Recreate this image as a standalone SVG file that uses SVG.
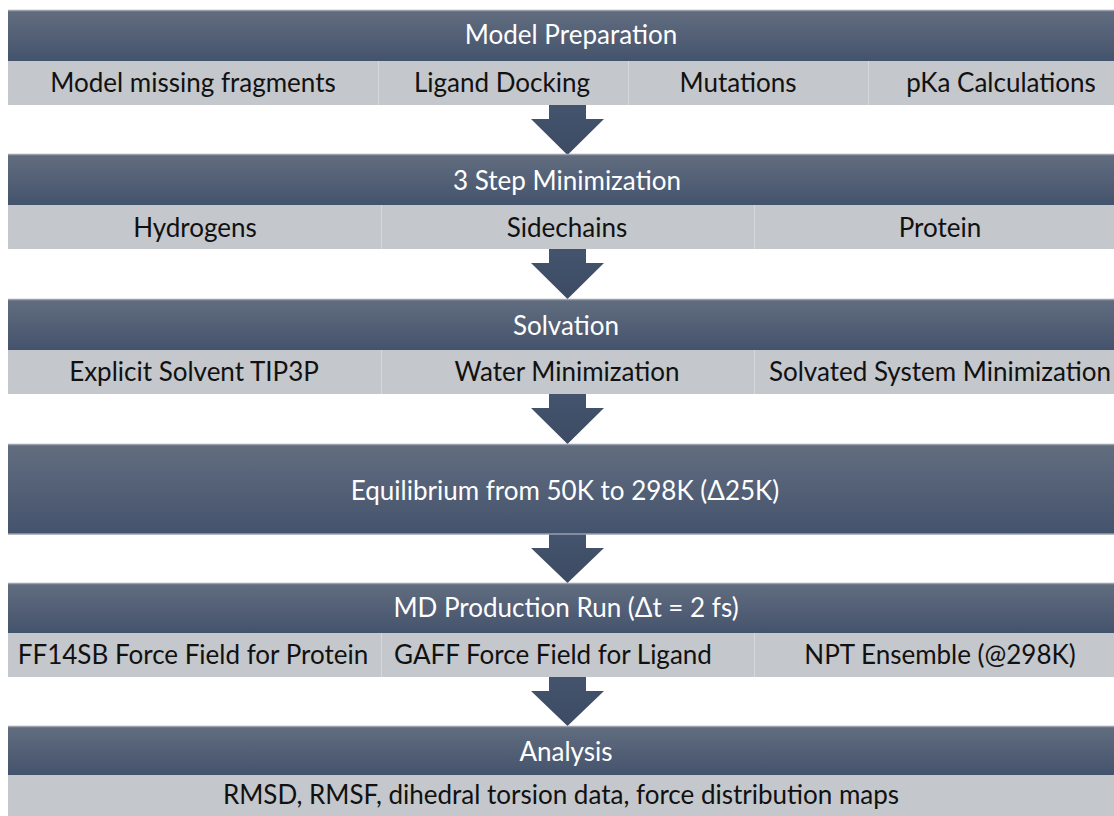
<svg xmlns="http://www.w3.org/2000/svg" width="1114" height="816" viewBox="0 0 1114 816">
<defs>
<linearGradient id="hg" x1="0" y1="0" x2="0" y2="1">
<stop offset="0" stop-color="#626d7f"/>
<stop offset="1" stop-color="#44536d"/>
</linearGradient>
<linearGradient id="ag" x1="0" y1="0" x2="0" y2="1">
<stop offset="0" stop-color="#44546e"/>
<stop offset="1" stop-color="#3d4b63"/>
</linearGradient>
<style>
.hd{fill:url(#hg);}
.hl{stroke:#9aa1ad;stroke-width:1.5;}
.sb{fill:#c4c7cb;}
.dv{stroke:#d6d8db;stroke-width:1;}
.ht{font-family:Lato,"Open Sans",sans-serif;font-size:26px;fill:#ffffff;text-anchor:middle;}
.st{font-family:Lato,"Open Sans",sans-serif;font-size:26px;fill:#111111;text-anchor:middle;}
.ar{fill:url(#ag);}
</style>
</defs>
<rect width="1114" height="816" fill="#ffffff"/>
<g id="connectors">
<polygon class="ar" points="549,105 586,105 586,119 604,119 567.5,155 531,119 549,119"/>
<polygon class="ar" points="549,249 586,249 586,263 604,263 567.5,299 531,263 549,263"/>
<polygon class="ar" points="549,394 586,394 586,408 604,408 567.5,444 531,408 549,408"/>
<polygon class="ar" points="549,534 586,534 586,548 604,548 567.5,583 531,548 549,548"/>
<polygon class="ar" points="549,677 586,677 586,691 604,691 567.5,726 531,691 549,691"/>
</g>
<g id="model-preparation">
<rect class="hd" x="8" y="10" width="1106" height="51"/>
<line class="hl" x1="8" y1="10.5" x2="1114" y2="10.5"/>
<text class="ht" x="571" y="44">Model Preparation</text>
<rect class="sb" x="8" y="61" width="1106" height="44"/>
<line class="dv" x1="378.5" y1="61" x2="378.5" y2="105"/>
<line class="dv" x1="628.5" y1="61" x2="628.5" y2="105"/>
<line class="dv" x1="868.5" y1="61" x2="868.5" y2="105"/>
<text class="st" x="193" y="92">Model missing fragments</text>
<text class="st" x="502" y="92">Ligand Docking</text>
<text class="st" x="738" y="92">Mutations</text>
<text class="st" x="1001" y="92">pKa Calculations</text>
</g>
<g id="minimization">
<rect class="hd" x="8" y="154" width="1106" height="51"/>
<line class="hl" x1="8" y1="154.5" x2="1114" y2="154.5"/>
<text class="ht" x="567" y="190">3 Step Minimization</text>
<rect class="sb" x="8" y="205" width="1106" height="44"/>
<line class="dv" x1="381.5" y1="205" x2="381.5" y2="249"/>
<line class="dv" x1="754.5" y1="205" x2="754.5" y2="249"/>
<text class="st" x="195" y="237">Hydrogens</text>
<text class="st" x="567" y="237">Sidechains</text>
<text class="st" x="940" y="237">Protein</text>
</g>
<g id="solvation">
<rect class="hd" x="8" y="299" width="1106" height="51"/>
<line class="hl" x1="8" y1="299.5" x2="1114" y2="299.5"/>
<text class="ht" x="566" y="335">Solvation</text>
<rect class="sb" x="8" y="350" width="1106" height="44"/>
<line class="dv" x1="381.5" y1="350" x2="381.5" y2="394"/>
<line class="dv" x1="754.5" y1="350" x2="754.5" y2="394"/>
<text class="st" x="194" y="381">Explicit Solvent TIP3P</text>
<text class="st" x="567" y="381">Water Minimization</text>
<text class="st" x="940" y="381">Solvated System Minimization</text>
</g>
<g id="equilibrium">
<rect class="hd" x="8" y="444" width="1106" height="90"/>
<line class="hl" x1="8" y1="444.5" x2="1114" y2="444.5"/>
<line class="hl" x1="8" y1="534" x2="1114" y2="534"/>
<text class="ht" x="565" y="500">Equilibrium from 50K to 298K (Δ25K)</text>
</g>
<g id="md-production">
<rect class="hd" x="8" y="583" width="1106" height="50"/>
<line class="hl" x1="8" y1="583.5" x2="1114" y2="583.5"/>
<text class="ht" x="566" y="617">MD Production Run (Δt = 2 fs)</text>
<rect class="sb" x="8" y="633" width="1106" height="44"/>
<line class="dv" x1="381.5" y1="633" x2="381.5" y2="677"/>
<line class="dv" x1="754.5" y1="633" x2="754.5" y2="677"/>
<text class="st" x="193" y="664">FF14SB Force Field for Protein</text>
<text class="st" x="553" y="664">GAFF Force Field for Ligand</text>
<text class="st" x="940" y="664">NPT Ensemble (@298K)</text>
</g>
<g id="analysis">
<rect class="hd" x="8" y="726" width="1106" height="49"/>
<line class="hl" x1="8" y1="726.5" x2="1114" y2="726.5"/>
<text class="ht" x="566" y="761">Analysis</text>
<rect class="sb" x="8" y="775" width="1106" height="41"/>
<text class="st" x="561" y="804">RMSD, RMSF, dihedral torsion data, force distribution maps</text>
</g>
</svg>
